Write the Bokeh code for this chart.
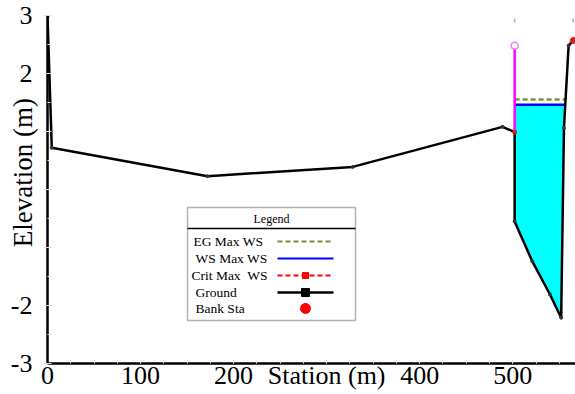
import numpy as np
from bokeh.plotting import figure
from bokeh.models import Range1d, Label, BoxAnnotation, FixedTicker
from bokeh.embed import file_html
from bokeh.resources import INLINE

# ---- data ----
station = [0, 4.6, 172, 328, 489, 502, 502, 521, 540, 552, 555, 560, 565]
elevation = [2.98, 0.72, 0.23, 0.39, 1.08, 0.99, -0.55, -1.24, -1.81, -2.21, 1.06, 2.48, 2.57]
bank_station = [502, 565]
bank_elevation = [0.99, 2.57]
levee_station = [502, 502]
levee_elevation = [0.99, 2.48]
ws_elev = 1.46
eg_elev = 1.55
x_ticks = [0, 100, 200, 300, 400, 500]
y_ticks = [-3, -2, -1, 0, 1, 2, 3]
x_tick_labels = {300: "Station (m)"}
y_tick_labels = {3: "3", 2: "2", 1: "", 0: "", -1: "", -2: "-2", -3: "-3"}
legend_labels = ["EG Max WS", "WS Max WS", "Crit Max  WS", "Ground", "Bank Sta"]

FONT = "Liberation Serif"
W, H = 575, 394
LB, RB, TB, BB = 47, 0, 15, 31
X0, X1 = 0, 567.4
Y0, Y1 = -3, 3

p = figure(width=W, height=H, output_backend="svg", toolbar_location=None,
           x_range=Range1d(X0, X1), y_range=Range1d(Y0, Y1),
           min_border_left=LB, min_border_right=RB, min_border_top=TB, min_border_bottom=BB)
p.outline_line_color = None
p.xgrid.visible = False
p.ygrid.visible = False
p.background_fill_color = "white"
p.border_fill_color = "white"

fw, fh = W - LB - RB, H - TB - BB
def dx(px):
    return X0 + (px - LB) / fw * (X1 - X0)
def dy(py):
    return Y1 - (py - TB) / fh * (Y1 - Y0)

# ---- water fill ----
st = np.array(station, dtype=float)
el = np.array(elevation, dtype=float)
left_bank = bank_station[0]
i_start = 6  # channel bottom starts at wall foot
xr = None
for i in range(i_start, len(st) - 1):
    if el[i] < ws_elev <= el[i + 1]:
        xr = st[i] + (ws_elev - el[i]) / (el[i + 1] - el[i]) * (st[i + 1] - st[i])
        i_end = i
        break
wx = [left_bank] + list(st[i_start:i_end + 1]) + [xr]
wy = [ws_elev] + list(el[i_start:i_end + 1]) + [ws_elev]
p.patch(wx, wy, fill_color="#00FFFF", line_color=None)

# EG and WS lines
p.line([left_bank, xr], [eg_elev, eg_elev], line_color="#77933C", line_width=2.5, line_dash="5 3")
p.line([left_bank, xr], [ws_elev, ws_elev], line_color="#0000FF", line_width=2.5)

# levee
p.line(levee_station, levee_elevation, line_color="#FF00FF", line_width=2.5)
p.scatter([levee_station[1]], [levee_elevation[1]], marker="circle", size=7,
          line_color="#F080F0", fill_color="white", line_width=1.5)

# ground
p.line(station, elevation, line_color="black", line_width=2.5)
p.scatter(station, elevation, marker="circle", size=3, color="#333333")

# bank stations
p.scatter(bank_station, bank_elevation, marker="circle", size=[4, 6], color="#D02020")

# faint markers at top
p.segment(x0=bank_station, y0=[2.95, 2.95], x1=bank_station, y1=[2.88, 2.88],
          line_color="#b0b0b0", line_width=1.5)

# ---- axes ----
for ax in (p.xaxis[0], p.yaxis[0]):
    ax.axis_line_color = "black"
    ax.axis_line_width = 2.5
    ax.major_tick_line_color = "#d8d8d8"
    ax.minor_tick_line_color = "#e4e4e4"
    ax.major_tick_in = 4
    ax.minor_tick_in = 3
    ax.minor_tick_out = 0
    ax.major_label_text_font = FONT
    ax.major_label_text_font_size = "26px"
    ax.major_label_text_color = "black"

p.xaxis.ticker = FixedTicker(ticks=x_ticks, minor_ticks=list(range(0, 575, 25)))
p.xaxis.major_label_overrides = x_tick_labels
p.xaxis.major_tick_out = 0
p.xaxis.major_label_standoff = -3

p.yaxis.ticker = FixedTicker(ticks=y_ticks, minor_ticks=list(np.arange(-3, 3.01, 0.5)))
p.yaxis.major_label_overrides = y_tick_labels
p.yaxis.major_tick_out = 3
p.yaxis.major_label_standoff = 12
p.yaxis.axis_label = "\u00a0" * 5 + "Elevation (m)"
p.yaxis.axis_label_text_font = FONT
p.yaxis.axis_label_text_font_size = "27px"
p.yaxis.axis_label_text_font_style = "normal"
p.yaxis.axis_label_text_color = "black"
p.yaxis.axis_label_standoff = -30

# ---- legend (drawn by hand) ----
bl, br, bt, bb = 187, 355, 207, 320
p.add_layout(BoxAnnotation(left=dx(bl), right=dx(br), top=dy(bt), bottom=dy(bb),
                           fill_color="white", fill_alpha=1, line_color="black", line_width=1.5,
                           level="underlay"))
p.line([dx(bl), dx(br)], [dy(228), dy(228)], line_color="black", line_width=1.5)
p.add_layout(Label(x=dx((bl + br) / 2), y=dy(218), text="Legend", text_align="center",
                   text_baseline="middle", text_font=FONT, text_font_size="12px",
                   text_color="black"))
rows = [241, 258, 275, 292, 308]
tx = [193, 195, 191, 195, 195]
for lab, ry, x in zip(legend_labels, rows, tx):
    p.add_layout(Label(x=dx(x), y=dy(ry), text=lab.replace("  ", " \u00a0"),
                       text_align="left", text_baseline="middle",
                       text_font=FONT, text_font_size="13.5px", text_color="black"))
sx0, sx1, sxm = dx(277), dx(333), dx(305)
p.line([sx0, sx1], [dy(rows[0])] * 2, line_color="#77933C", line_width=2, line_dash="5 3")
p.line([sx0, sx1], [dy(rows[1])] * 2, line_color="#0000FF", line_width=2)
p.line([sx0, sx1], [dy(rows[2])] * 2, line_color="#FF0000", line_width=2, line_dash="5 3")
p.scatter([sxm], [dy(rows[2])], marker="square", size=6, color="#FF0000")
p.line([sx0, sx1], [dy(rows[3])] * 2, line_color="black", line_width=2.5)
p.scatter([sxm], [dy(rows[3])], marker="square", size=8, color="black")
p.scatter([sxm], [dy(rows[4])], marker="circle", size=10, color="#FF0000")

open("out.html", "w").write(file_html(p, INLINE))
